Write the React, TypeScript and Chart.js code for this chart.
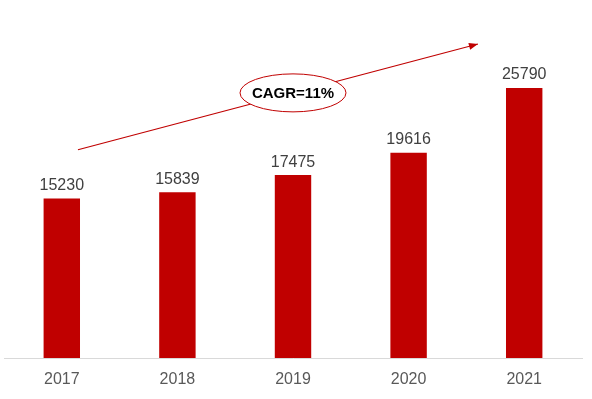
import React, { useEffect, useRef } from "react";
import { Chart, registerables } from "chart.js";

Chart.register(...registerables);

const categories = ["2017", "2018", "2019", "2020", "2021"];
const values = [15230, 15839, 17475, 19616, 25790];
const cagrLabel = "CAGR=11%";
// arrow annotation in data space: [categoryIndex, value]
const arrowStart = [0.14, 19900];
const arrowEnd = [3.6, 30000];

const RED = "#C00000";

const annotationPlugin = {
  id: "custom",
  afterDatasetsDraw(chart: any) {
    const ctx = chart.ctx;
    const meta = chart.getDatasetMeta(0);
    ctx.save();
    ctx.font = "16px Arial, 'Liberation Sans'";
    ctx.fillStyle = "#404040";
    ctx.textAlign = "center";
    ctx.textBaseline = "middle";
    meta.data.forEach((bar: any, i: number) => {
      ctx.fillText(String(values[i]), bar.x, bar.y - 13);
    });

    const xs = chart.scales.x;
    const ys = chart.scales.y;
    const x1 = xs.getPixelForValue(arrowStart[0]);
    const y1 = ys.getPixelForValue(arrowStart[1]);
    const x2 = xs.getPixelForValue(arrowEnd[0]);
    const y2 = ys.getPixelForValue(arrowEnd[1]);
    ctx.strokeStyle = RED;
    ctx.lineWidth = 1.2;
    ctx.beginPath();
    ctx.moveTo(x1, y1);
    ctx.lineTo(x2, y2);
    ctx.stroke();
    const ang = Math.atan2(y2 - y1, x2 - x1);
    const L = 9, W = 3.5;
    ctx.fillStyle = RED;
    ctx.beginPath();
    ctx.moveTo(x2, y2);
    ctx.lineTo(x2 - L * Math.cos(ang) + W * Math.sin(ang), y2 - L * Math.sin(ang) - W * Math.cos(ang));
    ctx.lineTo(x2 - L * Math.cos(ang) - W * Math.sin(ang), y2 - L * Math.sin(ang) + W * Math.cos(ang));
    ctx.closePath();
    ctx.fill();

    // ellipse at category 2 on the line
    const cx = xs.getPixelForValue(2);
    const t = (cx - x1) / (x2 - x1);
    const cy = y1 + t * (y2 - y1);
    ctx.beginPath();
    ctx.ellipse(cx, cy, 53, 19, 0, 0, Math.PI * 2);
    ctx.fillStyle = "#ffffff";
    ctx.fill();
    ctx.lineWidth = 1;
    ctx.strokeStyle = RED;
    ctx.stroke();
    ctx.fillStyle = "#000000";
    ctx.font = "bold 15px Arial, 'Liberation Sans'";
    ctx.fillText(cagrLabel, cx, cy + 1);
    ctx.restore();
  },
};

export default function App() {
  const ref = useRef<HTMLCanvasElement>(null);
  useEffect(() => {
    const chart = new Chart(ref.current!, {
      type: "bar",
      data: {
        labels: categories,
        datasets: [
          {
            data: values,
            backgroundColor: RED,
            categoryPercentage: 1,
            barPercentage: 0.315,
          },
        ],
      },
      options: {
        responsive: false,
        animation: false,
        layout: { padding: { left: 4, right: 10, top: 44, bottom: 10 } },
        plugins: { legend: { display: false }, tooltip: { enabled: false } },
        scales: {
          x: {
            grid: { display: false, drawTicks: false },
            border: { color: "#d9d9d9", width: 1 },
            ticks: {
              color: "#595959",
              font: { family: "Arial, 'Liberation Sans'", size: 16 },
              padding: 12,
            },
            afterFit: (scale: any) => {
              scale.height = 31;
            },
          },
          y: { display: false, min: 0, max: 30000 },
        },
      },
      plugins: [annotationPlugin],
    });
    return () => chart.destroy();
  }, []);
  return (
    <div style={{ position: "fixed", left: 0, top: 0, width: 592, height: 399, background: "#fff" }}>
      <canvas ref={ref} width={592} height={399} />
    </div>
  );
}
